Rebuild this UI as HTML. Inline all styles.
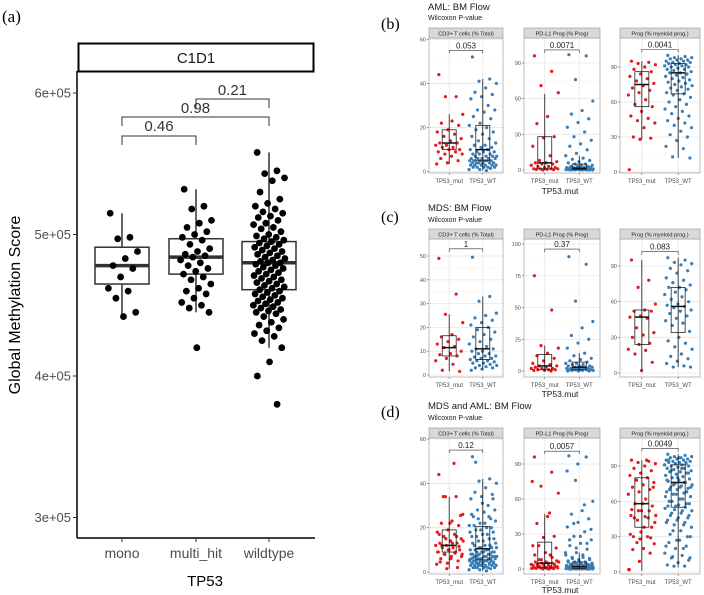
<!DOCTYPE html>
<html><head><meta charset="utf-8"><style>
html,body{margin:0;padding:0;background:#fff;}
svg{display:block;font-family:"Liberation Sans",Arial,sans-serif;}
</style></head><body>
<svg id="fig" width="704" height="595" viewBox="0 0 704 595" xmlns="http://www.w3.org/2000/svg"></svg>
<script>
// ---------- Panel (a) data ----------
const aCategories = ["mono","multi_hit","wildtype"];
const aTicks = [300000,400000,500000,600000];
const aTickLabels = ["3e+05","4e+05","5e+05","6e+05"];
const aMono = [5.15,4.98,4.97,4.88,4.83,4.78,4.76,4.7,4.62,4.6,4.55,4.45,4.42];
const aMulti = [5.32,5.2,5.18,5.1,5.08,5.05,5.02,5.0,4.98,4.96,4.93,4.9,4.88,4.86,4.85,4.84,4.82,4.8,4.78,4.76,4.74,4.72,4.7,4.68,4.65,4.62,4.6,4.58,4.55,4.52,4.5,4.48,4.45,4.2];
const aWild = [5.58,5.45,5.43,5.4,5.38,5.3,5.25,5.22,5.2,5.18,5.16,5.15,5.13,5.12,5.1,5.08,5.07,5.05,5.04,5.02,5.0,4.99,4.98,4.97,4.96,4.95,4.94,4.93,4.92,4.91,4.9,4.89,4.88,4.87,4.86,4.85,4.84,4.83,4.82,4.81,4.8,4.8,4.79,4.78,4.77,4.76,4.75,4.74,4.73,4.72,4.71,4.7,4.69,4.68,4.67,4.66,4.65,4.64,4.63,4.62,4.61,4.6,4.59,4.58,4.57,4.56,4.55,4.54,4.53,4.52,4.51,4.5,4.49,4.48,4.47,4.46,4.45,4.44,4.42,4.4,4.38,4.36,4.34,4.32,4.3,4.28,4.25,4.2,4.1,4.0,3.8];
// box stats [low, q1, median, q3, high] in 1e5 units
const aBoxMono = [4.42,4.65,4.78,4.91,5.15];
const aBoxMulti = [4.45,4.72,4.84,4.97,5.32];
const aBoxWild = [4.2,4.61,4.80,4.95,5.58];
const aPvals = ["0.46","0.98","0.21"];

// ---------- Right panels data ----------
const groups = ["TP53_mut","TP53_WT"];
const b1Mut=[44,34,34,26,23,22,21,19,18,17,16,15,14,13,13,12,12,11,11,10,10,9,9,8,8,7,6,5,4,3.5];
const b1WT=[52,42,41,40,38,36,35,34,33,30,28,28,27,25,24,22,21,20,19,18,17,16,15,14,13,12,12,11,11,10,10,9,9,9,8,8,8,7,7,7,7,6,6,6,6,6,5,5,5,5,5,5,4,4,4,4,4,4,3,3,3,3,3,3,2,2,2,2,2,1.5,1,1,0.5];
const b2Mut=[96,83,71,65,45,39,28,27,20,12,8,7,6,6,5,5,4,3,3,2,2,1,1,1,1,0.5,0.5,0.3,0];
const b2WT=[97,96,76,58,50,47,43,40,36,32,28,25,22,20,17,14,12,10,9,8,7,6,5,5,4,4,3,3,3,2,2,2,2,2,1.5,1.5,1.5,1,1,1,1,1,1,1,0.5,0.5,0.5,0.5,0.5,0.5,0.3,0.3,0.3,0.2,0.2,0.2,0.1,0.1,0,0,0,0];
const b3Mut=[95,94,93,92,90,88,86,84,82,80,78,76,74,72,70,68,66,62,58,56,52,48,46,44,42,38,30,29,28,2];
const b3WT=[100,99,98,98,97,97,96,96,95,95,94,94,93,93,92,92,91,91,90,90,89,88,88,87,86,85,85,84,83,82,81,80,79,78,77,76,75,74,73,72,71,70,68,67,66,64,62,60,58,56,54,52,50,48,46,44,42,40,38,35,32,30,27,22,20,13,12];
const c1Mut=[49,34,25.5,22,17,16,15,14,13,12,11.5,10,9,8.5,8,7,6,4.5,2,1.5];
const c1WT=[49.5,33,31,26,25,24,23,22,21,20,19,18,17,16,15,14,13,12,11,11,10,10,9,9,8,8,7.5,7,7,6.5,6,6,5.5,5,5,4.5,4,4,3.5,3,3,2.5,2];
const c2Mut=[75,48,20,18,14,12,10,8,6,5,4,4,3,3,2,2,2,1,1,1,0.5,0.5,0];
const c2WT=[90,84,55,39,34,28,25,22,18,14,12,10,9,8,7,6,6,5,5,4,4,4,3,3,3,3,2,2,2,2,2,1,1,1,1,1,1,0.5,0.5,0.5,0,0,0];
const c3Mut=[95,78,72,58,53,52,52,48,47,46,38,34,32,30,25,24,20,19,16,9,2];
const c3WT=[97,95,93,92,91,88,86,84,80,78,76,74,72,72,70,68,66,64,62,60,58,57,56,55,53,52,50,48,46,44,42,40,35,30,27,25,22,20,16,14,12,10,8,6,5,5];
const d1Mut=b1Mut.concat(c1Mut), d1WT=b1WT.concat(c1WT);
const d2Mut=b2Mut.concat(c2Mut), d2WT=b2WT.concat(c2WT);
const d3Mut=b3Mut.concat(c3Mut), d3WT=b3WT.concat(c3WT);
// box stats [low,q1,med,q3,high]
const b1Box=[[3.5,10,13,19,26],[0.5,5,10,21,42]];
const b2Box=[[0,1,6,28,64],[0,0.5,1.5,5,12]];
const b3Box=[[28,56,75,86,95],[12,67,85,93,100]];
const c1Box=[[1.5,8,11.5,16.5,25.5],[2,6.5,11,20,33]];
const c2Box=[[0,1,4,13,20],[0,1,3,7,14]];
const c3Box=[[2,24,47,53,95],[5,34,56,72,97]];
const d1Box=[[1.5,9,12,19,34],[0.5,5.5,10.5,20.5,42]];
const d2Box=[[0,1,5,23,47],[0,0.5,2,6,14]];
const d3Box=[[1,38,58,80,95],[4,55,76,91,100]];
const pRowB=["0.053","0.0071","0.0041"];
const pRowC=["1","0.37","0.083"];
const pRowD=["0.12","0.0057","0.0049"];
const bracketRowB=[55,101,105], bracketRowC=[53,96,102], bracketRowD=[55,101,105];
const ticksCD3A=[0,20,40,60], ticksCD3C=[0,10,20,30,40,50];
const ticksPDA=[0,30,60,90], ticksPDC=[0,25,50,75,100], ticksProg=[0,30,60,90];
const stripLabels=["CD3+ T cells (% Total)","PD-L1 Prog (% Prog)","Prog (% myeloid prog.)"];
const rowTitles=["AML: BM Flow","MDS: BM Flow","MDS and AML: BM Flow"];

const NS="http://www.w3.org/2000/svg";
const svg=document.getElementById('fig');
function el(tag,attrs,parent,text){const e=document.createElementNS(NS,tag);for(const k in attrs)e.setAttribute(k,attrs[k]);if(text!==undefined)e.textContent=text;(parent||svg).appendChild(e);return e;}
function jit(i,w){return (((i*0.618034+0.13)%1)-0.5)*w;}

// ---------- Panel (a) ----------
const ga=el('g',{});


const aY=v=>93+(600000-v)/100000*141.5;
const aX=i=>[122,196,269][i];
let t=el('text',{x:2,y:22,'font-family':'Liberation Serif,serif','font-size':17},ga,'(a)');

let r=el('rect',{x:78.5,y:43.5,width:235,height:28,fill:'#fff',stroke:'#000','stroke-width':2},ga);

t=el('text',{x:196,y:63,'text-anchor':'middle','font-size':15,fill:'#1a1a1a'},ga,'C1D1');

el('line',{x1:77,y1:71,x2:77,y2:538,stroke:'#000','stroke-width':1.5},ga);
el('line',{x1:77,y1:538,x2:315,y2:538,stroke:'#000','stroke-width':1.5},ga);
aTicks.forEach((v,i)=>{const y=aY(v);el('line',{x1:73,y1:y,x2:77,y2:y,stroke:'#333'},ga);
 const tt=el('text',{x:71,y:y+4.5,'text-anchor':'end','font-size':13,fill:'#4d4d4d'},ga,aTickLabels[i]);
 });
aCategories.forEach((c,i)=>{el('line',{x1:aX(i),y1:538,x2:aX(i),y2:542,stroke:'#333'},ga);
 const tt=el('text',{x:aX(i),y:558,'text-anchor':'middle','font-size':14,fill:'#4d4d4d'},ga,c);
 });
t=el('text',{x:205,y:586,'text-anchor':'middle','font-size':15},ga,'TP53');

t=el('text',{x:0,y:0,'text-anchor':'middle','font-size':16,transform:'translate(20,305) rotate(-90)'},ga,'Global Methylation Score');

[aBoxMono,aBoxMulti,aBoxWild].forEach((b,i)=>{const x=aX(i),hw=27;
 el('line',{x1:x,y1:aY(b[0]*1e5),x2:x,y2:aY(b[4]*1e5),stroke:'#333','stroke-width':1.5},ga);
 const bx=el('rect',{x:x-hw,y:aY(b[3]*1e5),width:2*hw,height:aY(b[1]*1e5)-aY(b[3]*1e5),fill:'#fff',stroke:'#333','stroke-width':1.5},ga);
 
 el('line',{x1:x-hw,y1:aY(b[2]*1e5),x2:x+hw,y2:aY(b[2]*1e5),stroke:'#333','stroke-width':3.5},ga);});
[aMono,aMulti,aWild].forEach((arr,i)=>{arr.forEach((v,j)=>{const c=el('circle',{cx:aX(i)+jit(j,32),cy:aY(v*1e5),r:3.4,fill:'#000'},ga);
 });});
[[0,1,136,126],[0,2,117,108],[1,2,99,90]].forEach((b,k)=>{const x1=aX(b[0]),x2=aX(b[1]);
 el('path',{d:`M${x1},${b[2]+9}V${b[2]}H${x2}V${b[2]+9}`,fill:'none',stroke:'#333','stroke-width':1},ga);
 const tt=el('text',{x:(x1+x2)/2,y:b[3]+5,'text-anchor':'middle','font-size':15,fill:'#333'},ga,aPvals[k]);
 });

// ---------- Right panels ----------
const panelX=[[429,503],[524,600],[620,700]];
const rows=[
 {label:'(b)',labY:29,title:10,sub:20,strip:28,bottom:173,xl:181,xt:194,
  cal:[[171.7,60,39.3],[170,90,63],[172,90,67]],ticks:[ticksCD3A,ticksPDA,ticksProg],
  data:[[b1Mut,b1WT],[b2Mut,b2WT],[b3Mut,b3WT]],box:[b1Box,b2Box,b3Box],p:pRowB,br:bracketRowB},
 {label:'(c)',labY:222,title:211,sub:222,strip:229,bottom:377,xl:385,xt:397,
  cal:[[375,50,256],[371,100,244],[373,90,266]],ticks:[ticksCD3C,ticksPDC,ticksProg],
  data:[[c1Mut,c1WT],[c2Mut,c2WT],[c3Mut,c3WT]],box:[c1Box,c2Box,c3Box],p:pRowC,br:bracketRowC},
 {label:'(d)',labY:417,title:409,sub:420,strip:428,bottom:574,xl:582,xt:593,
  cal:[[572,60,439],[569,90,464],[572,90,466]],ticks:[ticksCD3A,ticksPDA,ticksProg],
  data:[[d1Mut,d1WT],[d2Mut,d2WT],[d3Mut,d3WT]],box:[d1Box,d2Box,d3Box],p:pRowD,br:bracketRowD}
];
const cols=['#e41a1c','#377eb8'];
rows.forEach((R,ri)=>{
 const g=el('g',{});
 
 
 let tx=el('text',{x:381,y:R.labY,'font-family':'Liberation Serif,serif','font-size':16},g,R.label);
 
 tx=el('text',{x:428,y:R.title,'font-size':9.5,fill:'#1a1a1a'},g,rowTitles[ri]);
 
 tx=el('text',{x:428,y:R.sub,'font-size':7,fill:'#1a1a1a'},g,'Wilcoxon P-value');
 
 tx=el('text',{x:560,y:R.xt,'text-anchor':'middle','font-size':8.5,fill:'#1a1a1a'},g,'TP53.mut');
 
 panelX.forEach((px,pi)=>{
  const [x0,x1]=px, top=R.strip+10, bot=R.bottom, cal=R.cal[pi];
  const Y=v=>cal[0]+(cal[2]-cal[0])*v/cal[1];
  const X=k=>x0+(x1-x0)*(k===0?0.273:0.727);
  const sg=el('g',{},g);
  
  
  el('rect',{x:x0,y:top,width:x1-x0,height:bot-top,fill:'#fff'},sg);
  const tk=R.ticks[pi];
  for(let i=0;i<tk.length-1;i++){const m=(tk[i]+tk[i+1])/2;el('line',{x1:x0,x2:x1,y1:Y(m),y2:Y(m),stroke:'#f4f4f4','stroke-width':0.6},sg);}
  tk.forEach(v=>{el('line',{x1:x0,x2:x1,y1:Y(v),y2:Y(v),stroke:'#e6e6e6','stroke-width':0.8},sg);
   el('line',{x1:x0-2,x2:x0,y1:Y(v),y2:Y(v),stroke:'#555','stroke-width':0.6},sg);
   const tl=el('text',{x:x0-3,y:Y(v)+2,'text-anchor':'end','font-size':5.5,fill:'#4d4d4d'},sg,String(v));
   });
  [0,1].forEach(k=>{el('line',{x1:X(k),x2:X(k),y1:top,y2:bot,stroke:'#e6e6e6','stroke-width':0.8},sg);
   el('line',{x1:X(k),x2:X(k),y1:bot,y2:bot+2,stroke:'#555','stroke-width':0.6},sg);
   const tl=el('text',{x:X(k),y:R.xl+2,'text-anchor':'middle','font-size':6,fill:'#4d4d4d'},sg,groups[k]);
   });
  R.data[pi].forEach((arr,k)=>{arr.forEach((v,j)=>{const c=el('circle',{cx:X(k)+jit(j,28),cy:Y(v),r:1.6,fill:cols[k]},sg);
   });});
  R.box[pi].forEach((b,k)=>{const x=X(k),hw=7;
   el('line',{x1:x,x2:x,y1:Y(b[0]),y2:Y(b[4]),stroke:'#111','stroke-width':0.8},sg);
   const bx=el('rect',{x:x-hw,y:Y(b[3]),width:2*hw,height:Y(b[1])-Y(b[3]),fill:'none',stroke:'#222','stroke-width':0.8},sg);
   
   el('line',{x1:x-hw,x2:x+hw,y1:Y(b[2]),y2:Y(b[2]),stroke:'#111','stroke-width':1.5},sg);});
  const by=Y(R.br[pi]);
  el('path',{d:`M${X(0)},${by+3}V${by}H${X(1)}V${by+3}`,fill:'none',stroke:'#333','stroke-width':0.6},sg);
  const pl=el('text',{x:(X(0)+X(1))/2,y:by-2,'text-anchor':'middle','font-size':8,fill:'#222'},sg,R.p[pi]);
  
  el('rect',{x:x0,y:top,width:x1-x0,height:bot-top,fill:'none',stroke:'#a0a0a0','stroke-width':0.7},sg);
  const st=el('rect',{x:x0,y:R.strip,width:x1-x0,height:10,fill:'#d9d9d9',stroke:'#a0a0a0','stroke-width':0.7},sg);
  
  const sl=el('text',{x:(x0+x1)/2,y:R.strip+7.3,'text-anchor':'middle','font-size':5.6,fill:'#1a1a1a'},sg,stripLabels[pi]);
  
 });
});
</script>
</body></html>
